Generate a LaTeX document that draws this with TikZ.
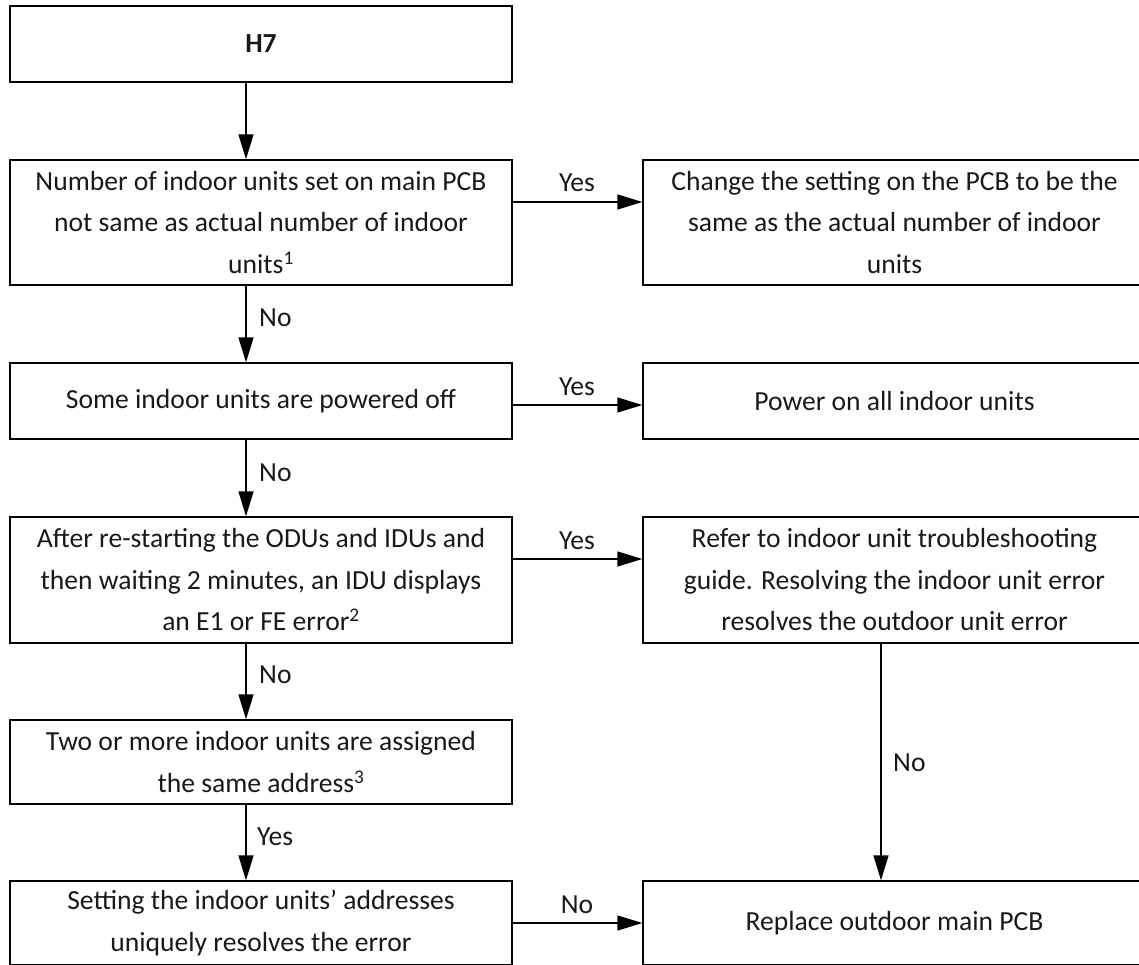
\documentclass[tikz,border=0pt]{standalone}
\usepackage{fontspec}
\setmainfont{Carlito}
\usetikzlibrary{arrows.meta}
\begin{document}
\begin{tikzpicture}[x=1pt,y=-1pt,
  box/.style={draw, line width=1.3pt, minimum width=502pt, align=center, inner sep=0pt,
    font=\fontsize{27.6}{41.5}\selectfont, text=black!90},
  rbox/.style={box, minimum width=503pt},
  arr/.style={line width=1.3pt, -{Triangle[length=25pt,width=15pt]}},
  lbl/.style={font=\fontsize{27.6}{30}\selectfont, text=black!90, inner sep=0pt}]
\useasboundingbox (0,0) rectangle (1139,965);
\clip (0,0) rectangle (1139,965);
% left column
\node[box, minimum height=76pt] (h7) at (261,44) {\textbf{H7}};
\node[box, minimum height=125pt] (q1) at (261,222.5) {Number of indoor units set on main PCB\\not same as actual number of indoor\\units\textsuperscript{1}};
\node[box, minimum height=76pt] (q2) at (261,401) {Some indoor units are powered off};
\node[box, minimum height=126pt] (q3) at (261,580) {After re-starting the ODUs and IDUs and\\then waiting 2 minutes, an IDU displays\\an E1 or FE error\textsuperscript{2}};
\node[box, minimum height=84pt] (q4) at (261,762) {Two or more indoor units are assigned\\the same address\textsuperscript{3}};
\node[box, minimum height=84pt] (q5) at (261,923) {Setting the indoor units’ addresses\\uniquely resolves the error};
% right column
\node[rbox, minimum height=125pt] (a1) at (894.5,222.5) {Change the setting on the PCB to be the\\same as the actual number of indoor\\units};
\node[rbox, minimum height=76pt] (a2) at (894.5,401) {Power on all indoor units};
\node[rbox, minimum height=126pt] (a3) at (894.5,580) {Refer to indoor unit troubleshooting\\guide. Resolving the indoor unit error\\resolves the outdoor unit error};
\node[rbox, minimum height=84pt] (a5) at (894.5,923) {Replace outdoor main PCB};
% vertical connectors
\draw[arr] ([xshift=-15pt]h7.south) -- ([xshift=-15pt]q1.north);
\draw[arr] ([xshift=-15pt]q1.south) -- ([xshift=-15pt]q2.north);
\draw[arr] ([xshift=-15pt]q2.south) -- ([xshift=-15pt]q3.north);
\draw[arr] ([xshift=-15pt]q3.south) -- ([xshift=-15pt]q4.north);
\draw[arr] ([xshift=-15pt]q4.south) -- ([xshift=-15pt]q5.north);
\draw[arr] ([xshift=-13.5pt]a3.south) -- ([xshift=-13.5pt]a5.north);
% horizontal connectors
\draw[arr] ([yshift=20.5pt]q1.east) -- ([yshift=20.5pt]a1.west);
\draw[arr] ([yshift=-4pt]q2.east) -- ([yshift=-4pt]a2.west);
\draw[arr] ([yshift=21pt]q3.east) -- ([yshift=21pt]a3.west);
\draw[arr] (q5.east) -- (a5.west);
% labels
\node[lbl] (l1) at (577,183) {Yes};
\node[lbl] (l2) at (577,387) {Yes};
\node[lbl] (l3) at (577,541) {Yes};
\node[lbl] (l5) at (577,905) {No};
\node[lbl, anchor=west] (v1) at (259,318) {No};
\node[lbl, anchor=west] (v2) at (259,473) {No};
\node[lbl, anchor=west] (v3) at (259,675) {No};
\node[lbl, anchor=west] (v4) at (257,837) {Yes};
\node[lbl, anchor=west] (v5) at (893,763) {No};
\end{tikzpicture}
\end{document}
